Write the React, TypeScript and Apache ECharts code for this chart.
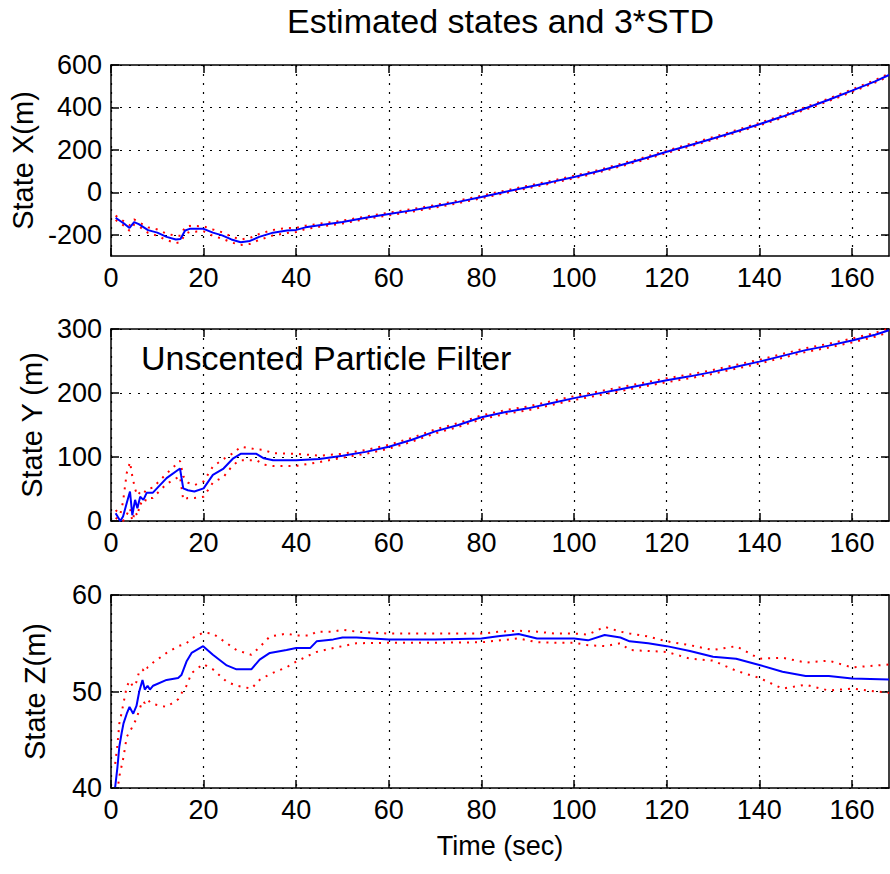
import React, { useEffect, useRef } from "react";
import * as echarts from "echarts";

const FONT = '"Liberation Sans", Arial, Helvetica, sans-serif';

// ---- axis ticks ----
const T_MAX = 168;
const xTicks = [0, 20, 40, 60, 80, 100, 120, 140, 160];
const yTicksX = [-200, 0, 200, 400, 600];
const yTicksY = [0, 100, 200, 300];
const yTicksZ = [40, 50, 60];

// ---- State X ----
const tX = [1, 2, 3, 4, 5, 6, 8, 10, 12, 14, 15, 16, 17, 20, 22, 24, 26, 28, 30, 32, 35, 38, 40, 42, 45, 50, 55, 60, 65, 70, 75, 80, 85, 90, 95, 100, 105, 110, 115, 120, 125, 130, 135, 140, 145, 150, 155, 160, 165, 168];
const estX = [-120, -135, -150, -168, -140, -150, -178, -190, -210, -222, -220, -180, -172, -172, -190, -203, -222, -235, -229, -210, -190, -180, -177, -165, -155, -140, -120, -102, -85, -66, -45, -22, 2, 25, 48, 72, 98, 128, 158, 191, 222, 254, 287, 321, 357, 396, 436, 479, 523, 553];
const upX = [-110, -125, -140, -155, -128, -140, -165, -175, -195, -205, -205, -163, -158, -160, -175, -188, -208, -222, -215, -196, -177, -168, -167, -157, -148, -133, -114, -96, -79, -60, -39, -16, 8, 31, 54, 78, 104, 134, 164, 197, 228, 260, 293, 327, 363, 402, 442, 485, 529, 559];
const loX = [-130, -145, -160, -181, -152, -160, -191, -205, -225, -239, -235, -197, -186, -184, -205, -218, -236, -248, -243, -224, -203, -192, -187, -173, -162, -147, -126, -108, -91, -72, -51, -28, -4, 19, 42, 66, 92, 122, 152, 185, 216, 248, 281, 315, 351, 390, 430, 473, 517, 547];

// ---- State Y ----
const tY = [1, 2, 2.6, 3.4, 4.1, 4.6, 5.2, 5.7, 6.3, 7, 7.7, 9, 12, 14.9, 15.6, 16.6, 18, 20, 22, 24.3, 26.4, 28, 31.4, 33, 35, 40, 45, 50, 55, 60, 65, 70, 75, 80, 85, 90, 95, 100, 105, 110, 115, 120, 125, 130, 135, 140, 145, 150, 155, 160, 165, 168];
const estY = [12, 0, 7, 28, 46, 9, 33, 20, 38, 33, 44, 44, 67, 82, 51, 48, 46, 51, 72, 82, 98, 105, 105, 98, 95, 95, 97, 102, 108, 116, 127, 140, 150, 162, 170, 176, 184, 192, 199, 206, 213, 220, 226, 233, 241, 249, 258, 267, 274, 282, 291, 298];
const upY = [17, 10, 30, 75, 92, 70, 50, 40, 45, 42, 50, 52, 74, 94, 70, 60, 56, 62, 85, 97, 106, 116, 112, 111, 106, 105, 102, 105, 111, 119, 130, 143, 153, 165, 173, 179, 187, 195, 202, 209, 216, 223, 229, 236, 244, 252, 261, 270, 277, 285, 294, 301];
const loY = [5, 0, 0, 10, 20, 0, 15, 8, 28, 25, 36, 36, 58, 70, 33, 36, 36, 38, 60, 69, 88, 95, 95, 88, 86, 86, 92, 99, 105, 113, 124, 137, 147, 159, 167, 173, 181, 189, 196, 203, 210, 217, 223, 230, 238, 246, 255, 264, 271, 279, 288, 295];

// ---- State Z ----
const tZ = [0.9, 1.4, 1.8, 2.3, 2.7, 3.4, 4, 4.8, 5.5, 6.1, 6.8, 7.3, 7.9, 8.4, 9.1, 12, 14.5, 15.2, 16.3, 17.4, 19.9, 22, 25, 27.1, 30.3, 32.1, 34.3, 37.9, 40, 43, 44.4, 48, 50, 53, 60, 70, 80, 84, 88, 92, 96, 100, 103, 106.6, 110, 112, 116, 120, 125, 130, 135, 140, 145, 150, 155, 160, 168];
const estZ = [40.1, 42.2, 44.3, 45.7, 46.7, 47.7, 48.4, 47.7, 48.5, 50.0, 51.2, 50.2, 50.6, 50.2, 50.6, 51.2, 51.4, 51.7, 53.1, 54.0, 54.7, 53.8, 52.7, 52.3, 52.3, 53.3, 54.0, 54.3, 54.5, 54.5, 55.2, 55.4, 55.6, 55.6, 55.4, 55.4, 55.5, 55.75, 55.95, 55.5, 55.5, 55.5, 55.3, 55.85, 55.6, 55.2, 55.0, 54.7, 54.2, 53.6, 53.4, 52.75, 52.05, 51.6, 51.6, 51.35, 51.25];
const upZ = [42.5, 44.5, 46.7, 47.8, 48.8, 50.5, 51.1, 50.5, 51.0, 52.1, 52.3, 52.0, 52.5, 52.6, 53.0, 54.0, 54.7, 54.8, 55.0, 55.5, 56.1, 56.0, 55.0, 54.3, 53.8, 54.6, 55.7, 56.0, 55.8, 55.8, 56.2, 56.2, 56.4, 56.2, 56.0, 56.0, 56.0, 56.2, 56.3, 56.2, 56.0, 56.0, 55.9, 56.7, 56.2, 56.0, 55.7, 55.2, 54.8, 54.3, 54.7, 53.4, 53.5, 53.0, 53.2, 52.5, 52.8];
const loZ = [38.0, 39.8, 41.2, 42.3, 43.2, 45.3, 45.8, 46.5, 47.2, 48.1, 49.0, 48.8, 49.2, 48.9, 48.7, 48.4, 49.2, 49.8, 50.6, 51.9, 52.85, 52.3, 51.0, 50.6, 50.3, 51.2, 51.8, 52.5, 53.1, 53.8, 54.1, 54.5, 54.7, 55.0, 55.05, 55.05, 55.1, 55.3, 55.5, 55.1, 55.05, 55.05, 54.8, 54.7, 55.0, 54.3, 54.2, 54.1, 53.4, 53.2, 52.15, 51.4, 50.3, 50.7, 50.1, 50.3, 49.85];

const TITLE = "Estimated states and 3*STD";
const ANNOTATION = "Unscented Particle Filter";
const Y_NAMES = ["State X(m)", "State Y (m)", "State Z(m)"];
const X_NAME = "Time (sec)";

const pairs = (t: number[], v: number[]) => t.map((x, i) => [x, v[i]]);

const panels = [
  { t: tX, est: estX, up: upX, lo: loX, min: -300, max: 600, ticks: yTicksX, top: 65, height: 191, nameGap: 70 },
  { t: tY, est: estY, up: upY, lo: loY, min: 0, max: 300, ticks: yTicksY, top: 329, height: 192, nameGap: 60 },
  { t: tZ, est: estZ, up: upZ, lo: loZ, min: 40, max: 60, ticks: yTicksZ, top: 595, height: 193, nameGap: 62 },
];

const AX = { color: "#000", width: 1.5 };
const GRIDLINE = { color: "#000", width: 1.2, type: [2, 7] as number[] };

export default function App() {
  const ref = useRef<HTMLDivElement>(null);
  useEffect(() => {
    if (!ref.current) return;
    const chart = echarts.init(ref.current, undefined, { renderer: "svg" });

    const grid = panels.map((p) => ({ left: 111, width: 778, top: p.top, height: p.height, containLabel: false }));
    const xAxis: any[] = [];
    const yAxis: any[] = [];
    const series: any[] = [];
    panels.forEach((p, i) => {
      xAxis.push({
        type: "value", gridIndex: i, position: "bottom", min: 0, max: T_MAX,
        axisLine: { show: true, onZero: false, lineStyle: AX },
        axisTick: { show: true, inside: true, length: 8, customValues: xTicks, lineStyle: AX },
        axisLabel: { show: true, customValues: xTicks, color: "#000", fontSize: 27, fontFamily: FONT, margin: 8 },
        splitLine: { show: true, lineStyle: GRIDLINE },
        name: i === 2 ? X_NAME : "",
        nameLocation: "middle", nameGap: 44,
        nameTextStyle: { color: "#000", fontSize: 27, fontFamily: FONT },
      });
      xAxis.push({
        type: "value", gridIndex: i, position: "top", min: 0, max: T_MAX,
        axisLine: { show: true, onZero: false, lineStyle: AX },
        axisTick: { show: true, inside: true, length: 8, customValues: xTicks, lineStyle: AX },
        axisLabel: { show: false },
        splitLine: { show: false },
      });
      yAxis.push({
        type: "value", gridIndex: i, position: "left", min: p.min, max: p.max,
        axisLine: { show: true, onZero: false, lineStyle: AX },
        axisTick: { show: true, inside: true, length: 8, customValues: p.ticks, lineStyle: AX },
        axisLabel: { show: true, customValues: p.ticks, color: "#000", fontSize: 27, fontFamily: FONT, margin: 9 },
        splitLine: { show: true, lineStyle: GRIDLINE },
        name: Y_NAMES[i], nameLocation: "middle", nameGap: p.nameGap,
        nameTextStyle: { color: "#000", fontSize: 29, fontFamily: FONT },
      });
      yAxis.push({
        type: "value", gridIndex: i, position: "right", min: p.min, max: p.max,
        axisLine: { show: true, onZero: false, lineStyle: AX },
        axisTick: { show: true, inside: true, length: 8, customValues: p.ticks, lineStyle: AX },
        axisLabel: { show: false },
        splitLine: { show: false },
      });
      const xi = i * 2;
      const yi = i * 2;
      series.push({
        type: "line", xAxisIndex: xi, yAxisIndex: yi, data: pairs(p.t, p.up), showSymbol: false,
        lineStyle: { color: "#ff0000", width: 2, type: [2, 6] }, z: 2,
      });
      series.push({
        type: "line", xAxisIndex: xi, yAxisIndex: yi, data: pairs(p.t, p.lo), showSymbol: false,
        lineStyle: { color: "#ff0000", width: 2, type: [2, 6] }, z: 2,
      });
      series.push({
        type: "line", xAxisIndex: xi, yAxisIndex: yi, data: pairs(p.t, p.est), showSymbol: false,
        lineStyle: { color: "#0000ff", width: 2 }, z: 3,
      });
    });

    chart.setOption({
      animation: false,
      backgroundColor: "#fff",
      title: {
        text: TITLE, left: 287, top: 4, padding: 0,
        textStyle: { color: "#000", fontSize: 34, fontWeight: "normal", fontFamily: FONT },
      },
      graphic: [
        {
          type: "text", x: 141, y: 341,
          style: { text: ANNOTATION, fill: "#000", font: `34px ${FONT}`, textVerticalAlign: "top" },
          z: 10,
        },
      ],
      grid, xAxis, yAxis, series,
    });
    return () => chart.dispose();
  }, []);
  return <div ref={ref} style={{ position: "fixed", left: 0, top: 0, width: 890, height: 874, background: "#fff" }} />;
}
